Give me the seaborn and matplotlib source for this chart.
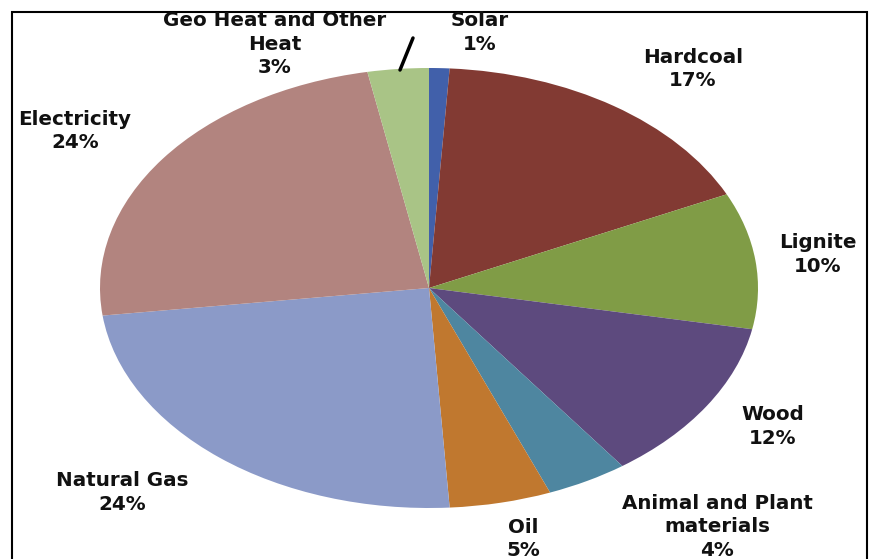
import matplotlib
matplotlib.use("Agg")
import matplotlib.pyplot as plt
import seaborn as sns
from matplotlib.patches import Rectangle

sns.set_theme(style="white")
plt.rcParams['font.family'] = ['DejaVu Sans']

categories = ["Solar", "Hardcoal", "Lignite", "Wood", "Animal and Plant\nmaterials",
              "Oil", "Natural Gas", "Electricity", "Geo Heat and Other\nHeat"]
values = [1, 17, 10, 12, 4, 5, 24, 24, 3]
colors = ["#4160aa", "#823a33", "#809c46", "#5d4a7e", "#4e86a0",
          "#c0782f", "#8b9ac8", "#b2847f", "#a9c486"]
label_texts = ["Solar\n1%", "Hardcoal\n17%", "Lignite\n10%", "Wood\n12%",
               "Animal and Plant\nmaterials\n4%", "Oil\n5%", "Natural Gas\n24%",
               "Electricity\n24%", "Geo Heat and Other\nHeat\n3%"]
# label centre x and centre y of first line, in pixels from top-left
label_px = [(480, 21), (693, 58), (818, 243), (773, 415), (717, 504),
            (523, 528), (122, 481), (75, 120), (275, 21)]

W, H = 872, 559
fig = plt.figure(figsize=(W / 100, H / 100), dpi=100)
ax = fig.add_axes([0, 0, 1, 1])

cx, cy, rx, ry = 429, 288, 329, 220
ax.pie(values, colors=colors, startangle=90, counterclock=False,
       wedgeprops=dict(linewidth=0))
ax.set_aspect('auto')
ax.set_xlim(-cx / rx, (W - cx) / rx)
ax.set_ylim(-(H - cy) / ry, cy / ry)
ax.axis('off')

for txt, (px, py) in zip(label_texts, label_px):
    fig.text(px / W, 1 - (py - 10) / H, txt, ha='center', va='top',
             fontsize=14.3, fontweight='bold', color='#111111',
             linespacing=1.3, multialignment='center')

# leader line for Geo Heat
fig.add_artist(plt.Line2D([400 / W, 413 / W], [1 - 70 / H, 1 - 38 / H],
                          transform=fig.transFigure, color='black', linewidth=2.5))

# frame
fig.add_artist(Rectangle((12 / W, -0.05), (867 - 12) / W, 1.05 - 12 / H,
                         transform=fig.transFigure, fill=False,
                         edgecolor='black', linewidth=1.5))

fig.savefig("out.png", dpi=100)
